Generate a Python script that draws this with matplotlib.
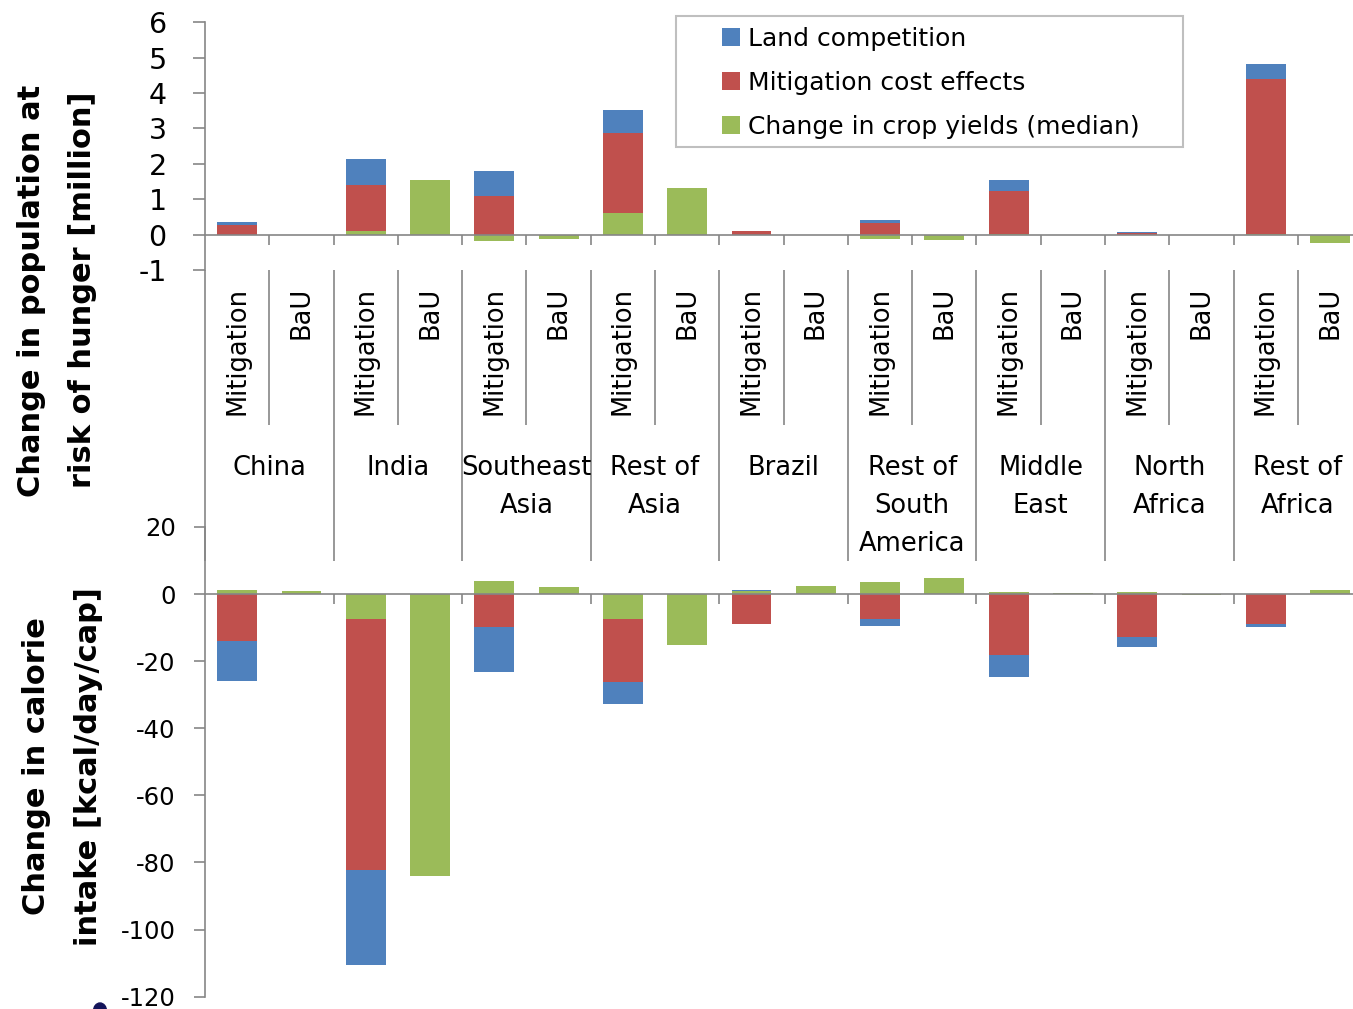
import numpy as np
import matplotlib
matplotlib.use("Agg")
import matplotlib.pyplot as plt
from matplotlib import transforms
from matplotlib.patches import Rectangle, Ellipse

# ---- data -------------------------------------------------------------
regions = ["China", "India", "Southeast\nAsia", "Rest of\nAsia", "Brazil",
           "Rest of\nSouth\nAmerica", "Middle\nEast", "North\nAfrica",
           "Rest of\nAfrica"]
scenarios = ["Mitigation", "BaU"]
series_names = ["Land competition", "Mitigation cost effects",
                "Change in crop yields (median)"]

# bars ordered region by region: Mitigation, BaU
hunger_land = [0.10, 0, 0.74, 0, 0.71, 0, 0.64, 0, 0.00, 0,
               0.08, 0, 0.32, 0, 0.02, 0, 0.43, 0]
hunger_cost = [0.26, 0, 1.30, 0, 1.09, 0, 2.26, 0, 0.09, 0,
               0.34, 0, 1.21, 0, 0.05, 0, 4.37, 0]
hunger_yield = [0.00, 0.00, 0.10, 1.54, -0.17, -0.11, 0.62, 1.31, 0.00, 0.00,
                -0.11, -0.15, 0.01, 0.00, 0.00, 0.00, 0.02, -0.24]

kcal_land = [-11.8, 0, -28.3, 0, -13.2, 0, -6.5, 0, 0.2, 0,
             -2.1, 0, -6.5, 0, -3.2, 0, -1.0, 0]
kcal_cost = [-14.0, 0, -74.9, 0, -9.9, 0, -18.9, 0, -9.0, 0,
             -7.3, 0, -18.1, 0, -12.7, 0, -8.8, 0]
kcal_yield = [1.1, 0.9, -7.3, -84.0, 3.8, 2.2, -7.3, -15.3, 0.9, 2.4,
              3.5, 4.7, 0.5, 0.2, 0.5, -0.4, 0.0, 1.1]

hunger_ticks = [-1, 0, 1, 2, 3, 4, 5, 6]
kcal_ticks = [-120, -100, -80, -60, -40, -20, 0, 20]

# ---- style ------------------------------------------------------------
BLUE, RED, GREEN = "#4F81BD", "#C0504D", "#9BBB59"
GRAY = "#868686"
plt.rcParams["font.family"] = ["DejaVu Sans"]
plt.rcParams["axes.unicode_minus"] = False

W, H = 1353, 1009
fig = plt.figure(figsize=(W / 100, H / 100), dpi=100)


def fx(px):
    return px / W


def fy(py):
    return 1 - py / H


AX_L, AX_R = 205, 1362.2
ax_top = fig.add_axes([fx(AX_L), fy(270), (AX_R - AX_L) / W, (270 - 22.3) / H])
ax_bot = fig.add_axes([fx(AX_L), fy(996.7), (AX_R - AX_L) / W, (996.7 - 526.9) / H])

n = len(regions) * len(scenarios)
x = np.arange(n)


def stacked(ax, layers):
    """Stack positive and negative parts separately, innermost layer first."""
    pos = np.zeros(n)
    neg = np.zeros(n)
    out = {}
    for vals, color, name in layers:
        vals = np.asarray(vals, dtype=float)
        base = np.where(vals >= 0, pos, neg)
        out[name] = ax.bar(x, vals, width=0.62, bottom=base, color=color,
                           linewidth=0, label=name, zorder=1)
        pos += np.clip(vals, 0, None)
        neg += np.clip(vals, None, 0)
    return out


bars_top = stacked(ax_top, [(hunger_yield, GREEN, series_names[2]),
                            (hunger_cost, RED, series_names[1]),
                            (hunger_land, BLUE, series_names[0])])
stacked(ax_bot, [(kcal_yield, GREEN, series_names[2]),
                 (kcal_cost, RED, series_names[1]),
                 (kcal_land, BLUE, series_names[0])])

for ax, ticks, lab_size, tick_len, pad in [
        (ax_top, hunger_ticks, 20.5, 8.6, 19),
        (ax_bot, kcal_ticks, 17.5, 8.0, 13)]:
    ax.set_facecolor("none")
    ax.set_xlim(-0.5, n - 0.5)
    ax.set_ylim(ticks[0], ticks[-1])
    ax.set_yticks(ticks)
    ax.set_yticklabels([str(t) for t in ticks])
    for s in ("top", "right"):
        ax.spines[s].set_visible(False)
    ax.spines["bottom"].set_position(("data", 0))
    for s in ("left", "bottom"):
        ax.spines[s].set_color(GRAY)
        ax.spines[s].set_linewidth(1.2)
    ax.tick_params(axis="y", direction="out", length=tick_len, width=1.2,
                   color=GRAY, pad=pad, labelsize=lab_size, labelcolor="black")
    ax.tick_params(axis="x", direction="out", length=7.5, width=1.2,
                   color=GRAY, labelbottom=False)

ax_top.set_xticks(np.arange(0.5, n, 1.0))
ax_bot.set_xticks(np.arange(1.5, n, 2.0))

# ---- two-level category labels under the upper panel ------------------
blend = transforms.blended_transform_factory(ax_top.transData, fig.transFigure)
CAT_SIZE = 18.5

for i in range(n):
    ax_top.text(x[i], fy(287), scenarios[i % 2], transform=blend, rotation=90,
                ha="center", va="top", fontsize=CAT_SIZE)

for j, name in enumerate(regions):
    cx = 2 * j + 0.5
    for k, line in enumerate(name.split("\n")):
        ax_top.text(cx, fy(455 + 38 * k), line, transform=blend,
                    ha="center", va="top", fontsize=CAT_SIZE)

for k in range(-1, n - 1):
    b = k + 0.5
    y_end = 425 if k % 2 == 0 else 561
    ax_top.plot([b, b], [fy(270), fy(y_end)], transform=blend, color=GRAY,
                lw=1.2, clip_on=False, solid_capstyle="butt")

ax_top.set_xlim(-0.5, n - 0.5)
ax_bot.set_xlim(-0.5, n - 0.5)

# ---- axis titles -------------------------------------------------------
YL = 22
fig.text(fx(32), fy(291), "Change in population at", rotation=90,
         ha="center", va="center", fontsize=YL, fontweight="bold")
fig.text(fx(83), fy(290), "risk of hunger [million]", rotation=90,
         ha="center", va="center", fontsize=YL, fontweight="bold")
fig.text(fx(37), fy(766), "Change in calorie", rotation=90,
         ha="center", va="center", fontsize=YL, fontweight="bold")
fig.text(fx(89), fy(767), "intake [kcal/day/cap]", rotation=90,
         ha="center", va="center", fontsize=YL, fontweight="bold")

# ---- legend ------------------------------------------------------------
handles = [bars_top[s] for s in series_names]
fig.legend(handles, series_names, loc="upper left",
           bbox_to_anchor=(fx(722), fy(27)), frameon=False, borderpad=0,
           borderaxespad=0, fontsize=18, handlelength=0.72,
           handleheight=0.72, handletextpad=0.33, labelspacing=0.80)
fig.add_artist(Rectangle((fx(676), fy(147)), (1183 - 676) / W, (147 - 16) / H,
                         transform=fig.transFigure, fill=False,
                         edgecolor="#BFBFBF", linewidth=1.5))

# small navy mark at the lower-left edge
fig.add_artist(Ellipse((fx(100), fy(1011)), 13 / W, 16 / H,
                       transform=fig.transFigure, color="#14145A"))

fig.savefig("out.png", dpi=100)
